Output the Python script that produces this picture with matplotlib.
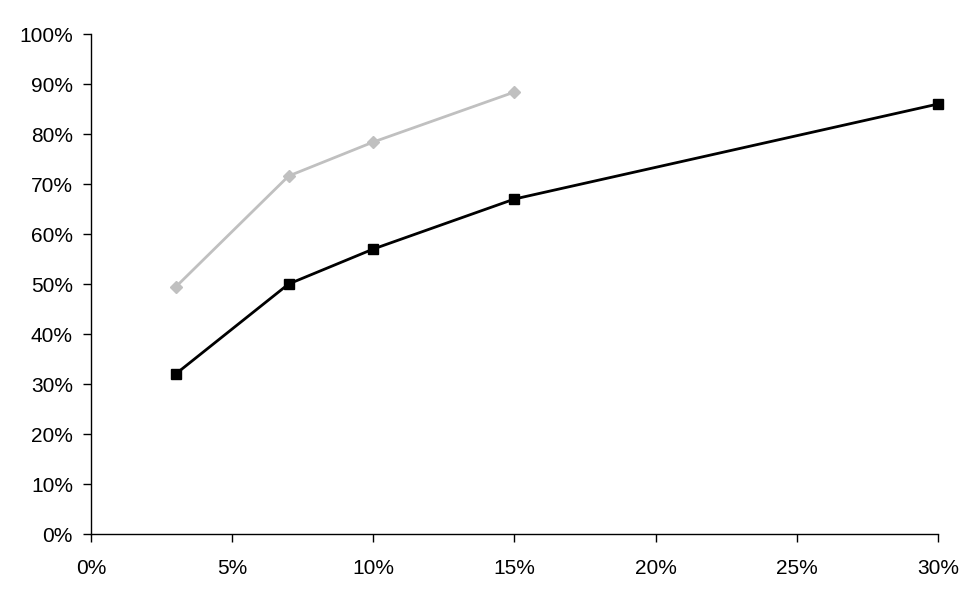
import numpy as np
import matplotlib.pyplot as plt
from matplotlib.ticker import PercentFormatter

plt.rcParams['font.family'] = ['Liberation Sans', 'DejaVu Sans']

# data (fractions)
x_black = [0.03, 0.07, 0.10, 0.15, 0.30]
y_black = [0.32, 0.50, 0.57, 0.67, 0.86]
x_gray = [0.03, 0.07, 0.10, 0.15]
y_gray = [0.494, 0.716, 0.784, 0.884]

fig = plt.figure(figsize=(9.77, 6.0), dpi=100)
ax = fig.add_axes([0.0931, 0.11, 0.8670, 0.8333])

ax.plot(x_gray, y_gray, color='#c0c0c0', lw=2.0, marker='D', ms=6.5, mec='#c0c0c0', mfc='#c0c0c0', clip_on=False)
ax.plot(x_black, y_black, color='black', lw=2.0, marker='s', ms=7, mec='black', mfc='black', clip_on=False)

ax.set_xlim(0, 0.30)
ax.set_ylim(0, 1.0)
ax.set_xticks(np.arange(0, 0.301, 0.05))
ax.set_yticks(np.arange(0, 1.001, 0.1))
ax.xaxis.set_major_formatter(PercentFormatter(1.0, decimals=0))
ax.yaxis.set_major_formatter(PercentFormatter(1.0, decimals=0))

for s in ['top', 'right']:
    ax.spines[s].set_visible(False)
for s in ['left', 'bottom']:
    ax.spines[s].set_linewidth(1.0)
ax.tick_params(axis='x', direction='out', length=6, width=1, pad=12, labelsize=15)
ax.tick_params(axis='y', direction='out', length=6, width=1, pad=7, labelsize=15)

fig.savefig('out.png', dpi=100)
